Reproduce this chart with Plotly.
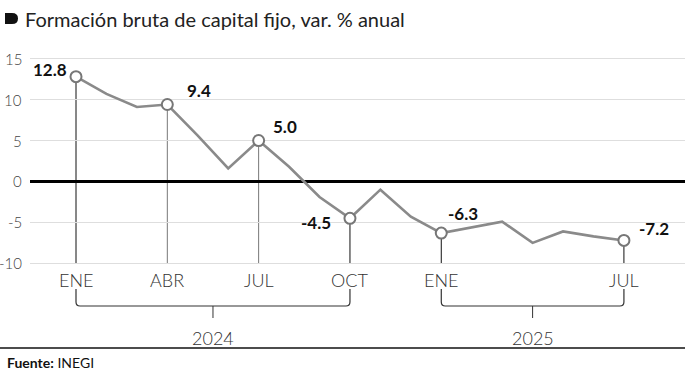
import plotly.graph_objects as go

# ---- data ----
periods = ["2024-01", "2024-02", "2024-03", "2024-04", "2024-05", "2024-06",
           "2024-07", "2024-08", "2024-09", "2024-10", "2024-11", "2024-12",
           "2025-01", "2025-02", "2025-03", "2025-04", "2025-05", "2025-06",
           "2025-07"]
values = [12.8, 10.7, 9.1, 9.4, 5.6, 1.6, 5.0, 1.8, -1.9, -4.5, -1.0, -4.3,
          -6.3, -5.6, -4.9, -7.5, -6.1, -6.7, -7.2]
highlight_periods = ["2024-01", "2024-04", "2024-07", "2024-10", "2025-01", "2025-07"]
highlight_ticks = ["ENE", "ABR", "JUL", "OCT", "ENE", "JUL"]
years = ["2024", "2025"]
year_spans = [("2024-01", "2024-10"), ("2025-01", "2025-07")]
y_ticks = [15, 10, 5, 0, -5, -10]
title = "Formación bruta de capital fijo, var. % anual"
source_bold = "Fuente:"
source_text = "INEGI"

# ---- geometry ----
W, H = 685, 380
ML, MR, MT, MB = 30, 0, 57, 115
PW, PH = W - ML - MR, H - MT - MB
X0_PX, STEP_PX = 76.0, 30.44
xr = [-(X0_PX - ML) / STEP_PX, (W - MR - X0_PX) / STEP_PX]
yr = [-10.2, 15.2]


def px(x):
    return (x - ML) / PW


def py(y):
    return (H - MB - y) / PH


xs = list(range(len(periods)))
idx = {p: i for i, p in enumerate(periods)}
hi_x = [idx[p] for p in highlight_periods]
hi_y = [values[idx[p]] for p in highlight_periods]

LIGHT = "Lato, Roboto, sans-serif"
BOLD = "Lato, Roboto, sans-serif"

fig = go.Figure()
fig.add_trace(go.Scatter(x=xs, y=values, mode="lines",
                         line=dict(color="#8a8a8a", width=2.6),
                         hoverinfo="skip", showlegend=False))
fig.add_trace(go.Scatter(x=hi_x, y=hi_y, mode="markers",
                         marker=dict(size=11, color="white",
                                     line=dict(color="#777777", width=2)),
                         hoverinfo="skip", showlegend=False))

shapes = []
drop_colors = ["#111", "#777", "#777", "#111", "#111", "#111"]
for x, y, c in zip(hi_x, hi_y, drop_colors):
    shapes.append(dict(type="line", xref="x", yref="y", x0=x, x1=x,
                       y0=y, y1=-10, line=dict(color=c, width=1), layer="below"))

annotations = []
# month labels
for x, t in zip(hi_x, highlight_ticks):
    annotations.append(dict(x=x, xref="x", y=py(280), yref="paper", text=t,
                            showarrow=False, xanchor="center", yanchor="middle",
                            font=dict(family=LIGHT, size=18, color="#333",
                                      weight=300)))

# year brackets
ytop, ybar, ytick = py(289), py(306), py(318)
rx, ry = 4 / STEP_PX, 4 / PH
for (a, b), yl in zip(year_spans, years):
    xa, xb = idx[a], idx[b]
    xm = (xa + xb) / 2
    path = (f"M {xa},{ytop} L {xa},{ybar + ry} Q {xa},{ybar} {xa + rx},{ybar} "
            f"L {xb - rx},{ybar} Q {xb},{ybar} {xb},{ybar + ry} L {xb},{ytop}")
    shapes.append(dict(type="path", xref="x", yref="paper", path=path,
                       line=dict(color="#333", width=1.2)))
    shapes.append(dict(type="line", xref="x", yref="paper", x0=xm, x1=xm,
                       y0=ybar, y1=ytick, line=dict(color="#333", width=1)))
    annotations.append(dict(x=xm, xref="x", y=py(338), yref="paper", text=yl,
                            showarrow=False, xanchor="center", yanchor="middle",
                            font=dict(family=LIGHT, size=18, color="#333",
                                      weight=300)))

# value labels
offsets = [(-26, 7), (32, 14), (26, 14), (-34, -4), (22, 20), (30, 12)]
for x, y, (dx, dy) in zip(hi_x, hi_y, offsets):
    annotations.append(dict(x=x, y=y, xref="x", yref="y", text=f"{y:.1f}",
                            showarrow=False, xshift=dx, yshift=dy,
                            font=dict(family=BOLD, size=17, color="#111",
                                      weight="bold")))

# y tick labels
for v in y_ticks:
    annotations.append(dict(x=px(24), xref="paper", y=v, yref="y", text=str(v),
                            showarrow=False, xanchor="right", yanchor="middle",
                            font=dict(family=LIGHT, size=15, color="#444",
                                      weight=300)))

# title bullet + title
shapes.append(dict(type="path", xref="paper", yref="paper",
                   path=(f"M {px(5)},{py(13)} L {px(12)},{py(13)} "
                         f"Q {px(18)},{py(13)} {px(18)},{py(18.5)} "
                         f"Q {px(18)},{py(24)} {px(12)},{py(24)} "
                         f"L {px(5)},{py(24)} Z"),
                   fillcolor="#111", line=dict(width=0)))
annotations.append(dict(x=px(23), xref="paper", y=py(18.5), yref="paper",
                        text=title, showarrow=False, xanchor="left",
                        yanchor="middle",
                        font=dict(family="Lato, sans-serif", size=20, color="#222")))

# bottom rule + source
shapes.append(dict(type="line", xref="paper", yref="paper", x0=px(0), x1=px(W),
                   y0=py(348), y1=py(348), line=dict(color="#111", width=1.5)))
annotations.append(dict(x=px(5), xref="paper", y=py(362), yref="paper",
                        text=f"<b>{source_bold}</b> {source_text}",
                        showarrow=False, xanchor="left", yanchor="middle",
                        font=dict(family="Lato, sans-serif", size=14, color="#111")))

fig.update_layout(
    width=W, height=H,
    margin=dict(l=ML, r=MR, t=MT, b=MB, pad=0),
    paper_bgcolor="white", plot_bgcolor="white",
    xaxis=dict(range=xr, showgrid=False, zeroline=False, showticklabels=False,
               showline=False, fixedrange=True),
    yaxis=dict(range=yr, tickvals=y_ticks, showticklabels=False,
               gridcolor="#dedede", gridwidth=1, zeroline=True,
               zerolinecolor="#000", zerolinewidth=3, showline=False,
               fixedrange=True),
    shapes=shapes, annotations=annotations,
)

fig.write_html("out.html", config={"displayModeBar": False},
               post_script="document.body.style.margin='0px';"
                           "document.body.style.overflow='hidden';")
